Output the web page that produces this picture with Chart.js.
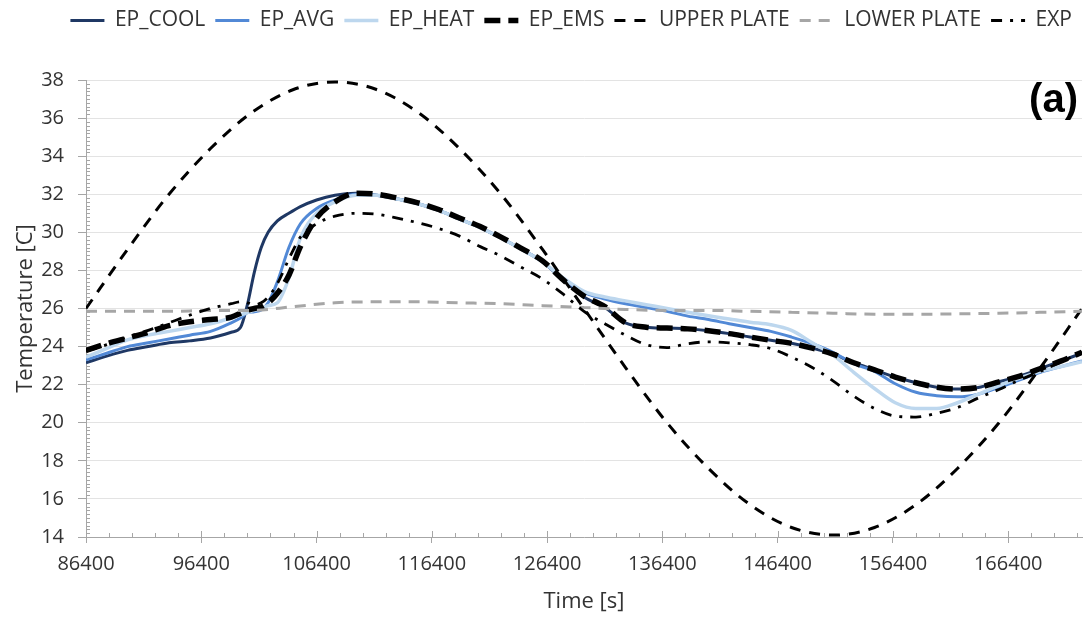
<!DOCTYPE html>
<html>
<head>
<meta charset="utf-8">
<script src="https://cdn.jsdelivr.net/npm/chart.js@4.4.0/dist/chart.umd.min.js"></script>
<style>
  html, body { margin: 0; padding: 0; background: #fff; }
  #wrap { width: 1084px; height: 619px; position: relative; }
</style>
</head>
<body>
<div id="wrap"><canvas id="cvn"></canvas></div>
<script>
// sample times [s] for the EnergyPlus runs and the measured curve
const tEP = [86400, 88200, 90000, 91800, 93600, 95400, 97200, 99000, 99800, 100400,
  101000, 101600, 102200, 103000, 104000, 105000, 106400, 108000, 109800, 111600,
  113400, 115200, 117000, 118800, 120600, 122400, 124200, 126000, 127800, 129600,
  131400, 133200, 135000, 136800, 138600, 140400, 142200, 144000, 145800, 147600,
  149400, 151200, 153000, 154800, 156600, 158400, 160200, 162000, 163800, 165600,
  167400, 169200, 171000, 172800];

const epCool = [23.15, 23.5, 23.8, 24.0, 24.2, 24.3, 24.45, 24.75, 25.0, 26.2,
  27.9, 29.2, 30.0, 30.6, 31.0, 31.35, 31.7, 31.95, 32.05, 31.95,
  31.75, 31.5, 31.15, 30.7, 30.25, 29.7, 29.1, 28.45, 27.5, 26.6,
  26.05, 25.25, 25.02, 24.97, 24.93, 24.83, 24.68, 24.5, 24.33, 24.17,
  23.92, 23.6, 23.15, 22.78, 22.4, 22.1, 21.87, 21.77, 21.85, 22.15,
  22.45, 22.85, 23.25, 23.65];

const epAvg = [23.3, 23.65, 24.0, 24.2, 24.4, 24.6, 24.8, 25.25, 25.5, 25.78,
  25.83, 25.92, 26.3, 27.4, 29.2, 30.45, 31.25, 31.7, 32.0, 31.95,
  31.75, 31.5, 31.15, 30.7, 30.25, 29.7, 29.1, 28.45, 27.55, 26.85,
  26.5, 26.25, 26.05, 25.85, 25.6, 25.42, 25.2, 25.0, 24.8, 24.5,
  24.15, 23.7, 23.1, 22.7, 22.05, 21.6, 21.42, 21.36, 21.5, 21.85,
  22.25, 22.65, 22.95, 23.25];

const epHeat = [23.45, 23.9, 24.35, 24.6, 24.8, 25.0, 25.2, 25.5, 25.66, 25.78,
  25.9, 26.0, 26.15, 26.3, 27.6, 29.7, 31.0, 31.6, 31.95, 31.95,
  31.75, 31.5, 31.15, 30.7, 30.25, 29.7, 29.1, 28.45, 27.6, 26.9,
  26.6, 26.4, 26.2, 26.0, 25.8, 25.62, 25.45, 25.28, 25.15, 24.85,
  24.2, 23.55, 22.65, 21.8, 21.05, 20.75, 20.75, 21.05, 21.5, 21.95,
  22.35, 22.7, 22.95, 23.2];

const epEms = [23.8, 24.15, 24.45, 24.75, 25.1, 25.3, 25.42, 25.55, 25.75, 25.92,
  26.0, 26.08, 26.3, 26.8, 27.75, 29.25, 30.75, 31.6, 32.05, 32.0,
  31.8, 31.55, 31.2, 30.75, 30.3, 29.75, 29.15, 28.5, 27.5, 26.65,
  26.1, 25.25, 25.02, 24.97, 24.93, 24.83, 24.68, 24.5, 24.33, 24.17,
  23.92, 23.6, 23.15, 22.78, 22.4, 22.1, 21.87, 21.77, 21.85, 22.15,
  22.45, 22.85, 23.25, 23.7];

const expMeas = [23.75, 24.1, 24.5, 24.85, 25.25, 25.65, 26.0, 26.25, 26.35, 26.3,
  26.2, 26.3, 26.6, 27.3, 28.6, 29.75, 30.45, 30.85, 31.0, 30.95,
  30.75, 30.5, 30.2, 29.8, 29.25, 28.75, 28.15, 27.55, 26.75, 25.85,
  25.2, 24.6, 24.1, 23.95, 24.15, 24.25, 24.2, 24.1, 23.9, 23.45,
  22.9, 22.2, 21.4, 20.75, 20.35, 20.3, 20.5, 20.8, 21.3, 21.75,
  22.25, 22.7, 23.2, 23.7];

// plate boundary temperatures, hourly
const tPlate = [86400, 90000, 93600, 97200, 100800, 104400, 108000, 111600, 115200,
  118800, 122400, 126000, 129600, 133200, 136800, 140400, 144000, 147600, 151200,
  154800, 158400, 162000, 165600, 169200, 172800];

const upperPlate = [26.0, 29.1, 32.0, 34.4, 36.3, 37.5, 37.9, 37.5, 36.3,
  34.4, 32.0, 29.1, 26.0, 22.9, 20.0, 17.6, 15.7, 14.5, 14.1,
  14.5, 15.7, 17.6, 20.0, 22.9, 26.0];

const lowerPlate = [25.85, 25.85, 25.85, 25.9, 25.9, 26.1, 26.3, 26.35, 26.35,
  26.3, 26.25, 26.15, 26.05, 25.95, 25.9, 25.9, 25.85, 25.8, 25.75,
  25.7, 25.7, 25.72, 25.75, 25.8, 25.85];

const xTicks = [86400, 96400, 106400, 116400, 126400, 136400, 146400, 156400, 166400];

function pts(xs, ys) {
  return xs.map((x, i) => ({ x: x, y: ys[i] }));
}

function series(label, xs, ys, color, width, dash, order) {
  return {
    label: label,
    data: pts(xs, ys),
    borderColor: color,
    backgroundColor: color,
    borderWidth: width,
    borderDash: dash,
    pointRadius: 0,
    pointHoverRadius: 0,
    cubicInterpolationMode: "monotone",
    fill: false,
    order: order,
  };
}

Chart.defaults.font.family = '"Open Sans", sans-serif';
Chart.defaults.color = "#333";

// keep a fixed band above the plot for the legend
const legendSpacer = {
  id: "legendSpacer",
  beforeInit(chart) {
    const fit = chart.legend.fit;
    chart.legend.fit = function () {
      fit.call(this);
      this.height = 80;
    };
  },
};

// legend swatches use the line style of each dataset, dashes included
function legendLabels(chart) {
  const items = Chart.defaults.plugins.legend.labels.generateLabels(chart);
  items.forEach((item) => {
    const ds = chart.data.datasets[item.datasetIndex];
    item.lineDash = ds.borderDash;
    item.lineWidth = ds.borderWidth;
    item.strokeStyle = ds.borderColor;
  });
  return items;
}

// minor tick marks and the panel letter
const axisExtras = {
  id: "axisExtras",
  beforeDatasetsDraw(chart) {
    const ctx = chart.ctx;
    const x = chart.scales.x;
    const y = chart.scales.y;
    const area = chart.chartArea;
    ctx.save();
    ctx.strokeStyle = "#a6a6a6";
    ctx.lineWidth = 1;
    ctx.beginPath();
    for (let i = 1; i < 120; i++) {
      if (i % 10 === 0) continue;
      const py = Math.round(y.getPixelForValue(14 + i * 0.2)) + 0.5;
      ctx.moveTo(area.left, py);
      ctx.lineTo(area.left + 4, py);
    }
    for (let t = 86400; t <= 172800; t += 2000) {
      const px = Math.round(x.getPixelForValue(t)) + 0.5;
      const len = (t - 86400) % 10000 === 0 ? 6 : 4;
      ctx.moveTo(px, area.bottom - len);
      ctx.lineTo(px, area.bottom);
    }
    ctx.stroke();
    ctx.restore();
  },
  afterDraw(chart) {
    const ctx = chart.ctx;
    ctx.save();
    ctx.font = 'bold 40px "Liberation Sans", Arial, sans-serif';
    ctx.fillStyle = "#000";
    ctx.textAlign = "right";
    ctx.textBaseline = "middle";
    ctx.fillText("(a)", 1078, 101);
    ctx.restore();
  },
};

const ctx = document.getElementById("cvn").getContext("2d");

new Chart(ctx, {
  type: "line",
  data: {
    datasets: [
      series("EP_COOL", tEP, epCool, "#1f3864", 3, [], 7),
      series("EP_AVG", tEP, epAvg, "#5289d6", 3, [], 6),
      series("EP_HEAT", tEP, epHeat, "#bdd7ee", 3.5, [], 5),
      series("EP_EMS", tEP, epEms, "#000000", 5.5, [16, 8], 4),
      series("UPPER PLATE", tPlate, upperPlate, "#000000", 3, [11, 9], 3),
      series("LOWER PLATE", tPlate, lowerPlate, "#a6a6a6", 3, [11, 8], 2),
      series("EXP", tEP, expMeas, "#000000", 2.8, [11, 8, 3, 8], 1),
    ],
  },
  options: {
    responsive: true,
    maintainAspectRatio: false,
    animation: false,
    layout: { padding: { left: 0, right: 2, top: 0, bottom: 0 } },
    plugins: {
      tooltip: { enabled: false },
      legend: {
        position: "top",
        align: "end",
        labels: {
          usePointStyle: true,
          pointStyle: "line",
          pointStyleWidth: 34,
          padding: 10,
          color: "#333",
          font: { size: 21 },
          generateLabels: legendLabels,
          sort: (a, b) => a.datasetIndex - b.datasetIndex,
        },
      },
    },
    scales: {
      x: {
        type: "linear",
        min: 86400,
        max: 172800,
        afterBuildTicks: (scale) => {
          scale.ticks = xTicks.map((v) => ({ value: v }));
        },
        afterFit: (scale) => {
          scale.height = 82;
        },
        ticks: {
          autoSkip: false,
          maxRotation: 0,
          padding: 9,
          color: "#333",
          font: { size: 20 },
          callback: (v) => String(v),
        },
        grid: {
          drawOnChartArea: false,
          drawTicks: true,
          tickLength: 6,
          color: "#a6a6a6",
        },
        border: { color: "#a6a6a6", width: 1 },
        title: {
          display: true,
          text: "Time [s]",
          color: "#333",
          font: { size: 22 },
          padding: { top: 2, bottom: 4 },
        },
      },
      y: {
        min: 14,
        max: 38,
        afterFit: (scale) => {
          scale.width = 86;
        },
        ticks: {
          stepSize: 2,
          padding: 14,
          color: "#333",
          font: { size: 20 },
        },
        grid: {
          color: "#e3e3e3",
          tickColor: "#a6a6a6",
          tickLength: 8,
        },
        border: { color: "#a6a6a6", width: 1 },
        title: {
          display: true,
          text: "Temperature [C]",
          color: "#333",
          font: { size: 22 },
          padding: { top: 13, bottom: 4 },
        },
      },
    },
  },
  plugins: [legendSpacer, axisExtras],
});
</script>
</body>
</html>
